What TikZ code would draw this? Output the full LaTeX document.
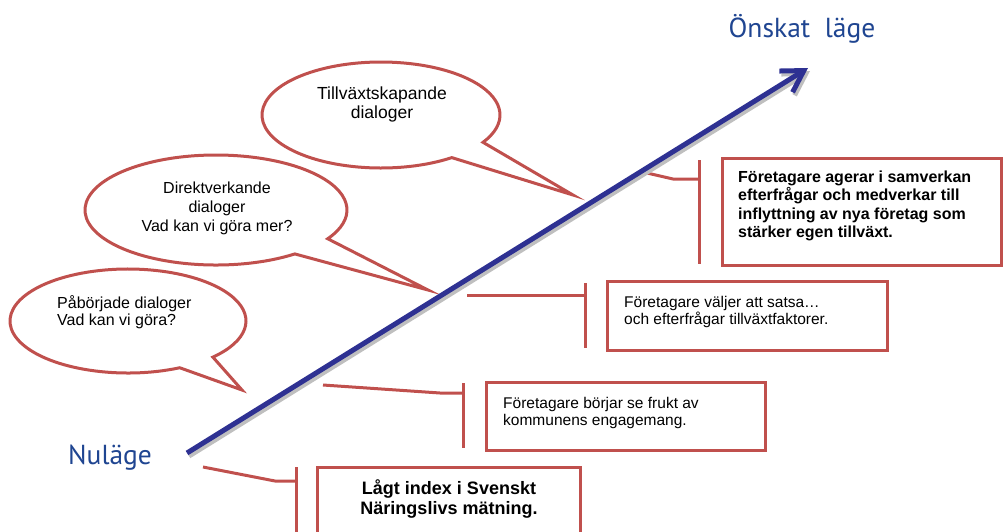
\documentclass[tikz,border=0pt]{standalone}
\usepackage{fontspec}
\setmainfont{Liberation Sans}
\newfontfamily\titlefont{PT Sans}
\usetikzlibrary{arrows.meta,calc}
\definecolor{bred}{RGB}{192,80,77}
\definecolor{barrow}{RGB}{46,49,146}
\definecolor{btitle}{RGB}{31,69,145}
\begin{document}
\begin{tikzpicture}[x=1pt,y=-1pt,
  redline/.style={draw=bred,line width=3pt},
  bubble/.style={draw=bred,line width=3pt,fill=white,line join=miter},
  boxnode/.style={draw=bred,line width=3pt,fill=white,rectangle,inner sep=0pt,outer sep=0pt,anchor=north west},
  bubtxt/.style={inner sep=0pt,font=\fontsize{16}{17.5}\selectfont},
  boxtxt/.style={inner sep=0pt,align=left,anchor=base west,font=\fontsize{15.5}{17}\selectfont},
  boldtxt/.style={inner sep=0pt,font=\bfseries\fontsize{16}{18.3}\selectfont},
  titletxt/.style={inner sep=0pt,text=btitle,font=\titlefont\fontsize{27.5}{30}\selectfont},
  mainarrow/.style={line width=5pt,-{Straight Barb[length=21pt,width=25pt,line cap=butt,line join=miter]}}
]
\useasboundingbox (0,0) rectangle (1003,531);

% titles
\node[titletxt,anchor=base] (goal) at (802,37) {Önskat\ \ läge};
\node[titletxt,anchor=base west] (now) at (68,464) {Nuläge};

% speech bubbles
\coordinate (e1) at (128,321);
\coordinate (e2) at (216,210);
\coordinate (e3) at (381,115);
\coordinate (p1) at (242,390);
\coordinate (p2) at (428,290);
\coordinate (p3) at (573,195);
\draw[bubble] ($(e1)+(44:118 and 52)$) -- (p1) -- ($(e1)+(64:118 and 52)$)
  arc[start angle=64,end angle=404,x radius=118,y radius=52] -- cycle;
\draw[bubble] ($(e2)+(31.5:131 and 55)$) -- (p2) -- ($(e2)+(53:131 and 55)$)
  arc[start angle=53,end angle=391.5,x radius=131,y radius=55] -- cycle;
\draw[bubble] ($(e3)+(31:119 and 53)$) -- (p3) -- ($(e3)+(53.5:119 and 53)$)
  arc[start angle=53.5,end angle=391,x radius=119,y radius=53] -- cycle;

\node[bubtxt,align=left,anchor=base west] (q1) at (57,325.5) {Påbörjade dialoger\\Vad kan vi göra?};
\node[bubtxt,align=center,anchor=base,font=\fontsize{16}{19}\selectfont] (q2) at (217,231.5) {Direktverkande\\dialoger\\Vad kan vi göra mer?};
\node[bubtxt,align=center,anchor=base,font=\fontsize{17.5}{19.5}\selectfont] (q3) at (382,118.5) {Tillväxtskapande\\dialoger};

% boxes
\node[boxnode,minimum width=279pt,minimum height=107pt] (b1) at (722,158) {};
\node[boxnode,minimum width=280pt,minimum height=69pt] (b2) at (607,281) {};
\node[boxnode,minimum width=279pt,minimum height=68pt] (b3) at (486,382) {};
\node[boxnode,minimum width=263pt,minimum height=80pt] (b4) at (317,467) {};

\node[boldtxt,align=left,anchor=base west] (t1) at (738,237.4) {Företagare agerar i samverkan\\efterfrågar och medverkar till\\inflyttning av nya företag som\\stärker egen tillväxt.};
\node[boxtxt] (t2) at (624,324) {Företagare väljer att satsa…\\och efterfrågar tillväxtfaktorer.};
\node[boxtxt] (t3) at (503,425) {Företagare börjar se frukt av\\kommunens engagemang.};
\node[boldtxt,align=center,anchor=base,font=\bfseries\fontsize{18}{20}\selectfont] (t4) at (449,514) {Lågt index i Svenskt\\Näringslivs mätning.};

% brackets
\coordinate (k1a) at (699,160); \coordinate (k1b) at (699,264);
\coordinate (k2a) at (585,283); \coordinate (k2b) at (585,348);
\coordinate (k3a) at (463,383); \coordinate (k3b) at (463,448);
\coordinate (k4a) at (296,467); \coordinate (k4b) at (296,540);
\draw[redline] (k1a) -- (k1b);
\draw[redline] (k2a) -- (k2b);
\draw[redline] (k3a) -- (k3b);
\draw[redline] (k4a) -- (k4b);

% connectors
\coordinate (c1s) at (647,173); \coordinate (c1m) at (673,179);
\coordinate (c2s) at (467,295);
\coordinate (c3s) at (323,385); \coordinate (c3m) at (440,393);
\coordinate (c4s) at (203,467); \coordinate (c4m) at (275,481);
\draw[redline] (c1s) -- (c1m) -- (c1m -| k1a);
\draw[redline] (c2s) -- (c2s -| k2a);
\draw[redline] (c3s) -- (c3m) -- (c3m -| k3a);
\draw[redline] (c4s) -- (c4m) -- (c4m -| k4a);

% main arrow
\coordinate (astart) at (187,453);
\coordinate (atip) at (808,68);
\draw[mainarrow,draw=black!25] ($(astart)+(2,3)$) -- ($(atip)+(2,3)$);
\draw[mainarrow,draw=barrow] (astart) -- (atip);
\end{tikzpicture}
\end{document}
